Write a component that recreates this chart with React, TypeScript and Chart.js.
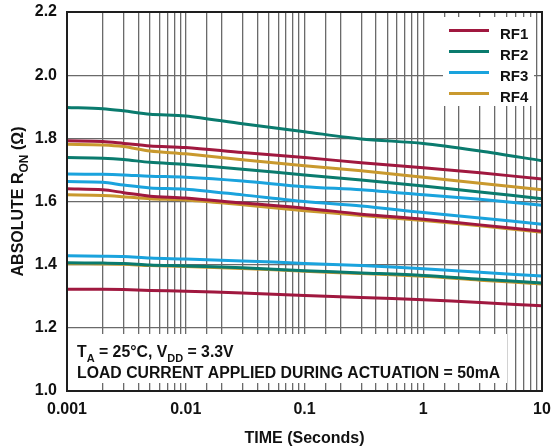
import React, { useEffect, useRef } from "react";
import { Chart, registerables } from "chart.js";

Chart.register(...registerables);

// ---- data ----
const TIMES = [0.001, 0.002, 0.003, 0.005, 0.01, 0.03, 0.1, 0.3, 1, 3, 10];

const RF1_A = [1.792, 1.790, 1.784, 1.776, 1.771, 1.755, 1.739, 1.723, 1.707, 1.691, 1.671];
const RF1_B = [1.640, 1.637, 1.628, 1.617, 1.611, 1.595, 1.579, 1.560, 1.544, 1.526, 1.506];
const RF1_C = [1.322, 1.322, 1.321, 1.318, 1.316, 1.310, 1.302, 1.296, 1.289, 1.280, 1.270];

const RF2_A = [1.898, 1.894, 1.887, 1.876, 1.871, 1.846, 1.821, 1.798, 1.784, 1.760, 1.729];
const RF2_B = [1.739, 1.737, 1.733, 1.724, 1.717, 1.702, 1.684, 1.668, 1.649, 1.630, 1.609];
const RF2_C = [1.406, 1.405, 1.404, 1.399, 1.396, 1.390, 1.381, 1.374, 1.366, 1.354, 1.342];

const RF3_A = [1.687, 1.686, 1.684, 1.680, 1.677, 1.665, 1.647, 1.637, 1.621, 1.607, 1.588];
const RF3_B = [1.663, 1.661, 1.652, 1.643, 1.639, 1.621, 1.600, 1.586, 1.565, 1.548, 1.528];
const RF3_C = [1.428, 1.427, 1.426, 1.421, 1.418, 1.412, 1.404, 1.397, 1.387, 1.376, 1.364];

const RF4_A = [1.781, 1.779, 1.774, 1.760, 1.751, 1.732, 1.713, 1.697, 1.677, 1.658, 1.637];
const RF4_B = [1.621, 1.619, 1.615, 1.609, 1.605, 1.590, 1.571, 1.556, 1.540, 1.523, 1.503];
const RF4_C = [1.403, 1.402, 1.401, 1.397, 1.394, 1.388, 1.379, 1.372, 1.363, 1.351, 1.339];

const SERIES_NAMES = ["RF1", "RF2", "RF3", "RF4"];
const SERIES_LINES = [
  [RF1_A, RF1_B, RF1_C],
  [RF2_A, RF2_B, RF2_C],
  [RF3_A, RF3_B, RF3_C],
  [RF4_A, RF4_B, RF4_C],
];

const X_TICK_LABELS = ["0.001", "0.01", "0.1", "1", "10"];
const Y_MIN = 1.0;
const Y_MAX = 2.2;
const Y_STEP = 0.2;

// ---- styles ----
const COLORS = ["#a0183f", "#0a7b6e", "#1aa3dd", "#c9992e"];
const FONT = '"Liberation Sans", Arial, Helvetica, sans-serif';
const GRID = "#6a6a6a";
const TEXT = "#111111";

type Part = { t: string; sub?: boolean };

function drawRich(ctx: CanvasRenderingContext2D, parts: Part[], x: number, y: number, size: number, align: "left" | "center") {
  const subSize = Math.round(size * 0.72);
  const measure = (p: Part) => {
    ctx.font = `bold ${p.sub ? subSize : size}px ${FONT}`;
    return ctx.measureText(p.t).width;
  };
  const total = parts.reduce((s, p) => s + measure(p), 0);
  let cx = align === "center" ? x - total / 2 : x;
  ctx.textAlign = "left";
  ctx.textBaseline = "alphabetic";
  for (const p of parts) {
    ctx.font = `bold ${p.sub ? subSize : size}px ${FONT}`;
    ctx.fillText(p.t, cx, p.sub ? y + size * 0.3 : y);
    cx += ctx.measureText(p.t).width;
  }
}

const zeroPad = (s: any) => {
  s.paddingLeft = 0;
  s.paddingRight = 0;
  s.paddingTop = 0;
  s.paddingBottom = 0;
};

const overlayPlugin = {
  id: "overlay",
  beforeDatasetsDraw(chart: any) {
    const { ctx, chartArea: a } = chart;
    ctx.save();
    ctx.fillStyle = "#ffffff";
    // legend box
    ctx.fillRect(a.right - 99, a.top + 5, 91, 89);
    // annotation box
    ctx.fillRect(a.left + 2, a.bottom - 57, 438, 49);
    ctx.restore();
  },
  afterDatasetsDraw(chart: any) {
    const { ctx, chartArea: a } = chart;
    ctx.save();
    // frame
    ctx.strokeStyle = "#1e1e1e";
    ctx.lineWidth = 2;
    ctx.strokeRect(a.left, a.top, a.right - a.left, a.bottom - a.top);

    // legend
    SERIES_NAMES.forEach((name, i) => {
      const yy = a.top + 18.5 + i * 21;
      ctx.strokeStyle = COLORS[i];
      ctx.lineWidth = 3;
      ctx.beginPath();
      ctx.moveTo(a.right - 93, yy);
      ctx.lineTo(a.right - 53, yy);
      ctx.stroke();
      ctx.fillStyle = TEXT;
      ctx.font = `bold 15px ${FONT}`;
      ctx.textAlign = "left";
      ctx.textBaseline = "alphabetic";
      ctx.fillText(name, a.right - 42, yy + 8);
    });

    // annotation
    ctx.fillStyle = TEXT;
    drawRich(ctx, [{ t: "T" }, { t: "A", sub: true }, { t: " = 25°C, V" }, { t: "DD", sub: true }, { t: " = 3.3V" }], a.left + 10, a.bottom - 34, 15.8, "left");
    drawRich(ctx, [{ t: "LOAD CURRENT APPLIED DURING ACTUATION = 50mA" }], a.left + 10, a.bottom - 13, 15.8, "left");

    // x title
    drawRich(ctx, [{ t: "TIME (Seconds)" }], (a.left + a.right) / 2, 443, 16, "center");

    // y title (rotated)
    ctx.translate(23, (a.top + a.bottom) / 2);
    ctx.rotate(-Math.PI / 2);
    drawRich(ctx, [{ t: "ABSOLUTE R" }, { t: "ON", sub: true }, { t: " (Ω)" }], 0, 0, 16, "center");
    ctx.restore();
  },
};

export default function App() {
  const ref = useRef<HTMLCanvasElement | null>(null);

  useEffect(() => {
    if (!ref.current) return;
    const datasets: any[] = [];
    SERIES_LINES.forEach((lines, si) => {
      lines.forEach((vals, li) => {
        datasets.push({
          label: `${SERIES_NAMES[si]}-${li + 1}`,
          data: TIMES.map((t, k) => ({ x: t, y: vals[k] })),
          borderColor: COLORS[si],
          backgroundColor: COLORS[si],
          borderWidth: 3,
          pointRadius: 0,
          fill: false,
          tension: 0.3,
        });
      });
    });

    const chart = new Chart(ref.current, {
      type: "line",
      data: { datasets },
      plugins: [overlayPlugin],
      options: {
        animation: false,
        responsive: false,
        maintainAspectRatio: false,
        layout: { padding: { top: 12, right: 9, left: 0, bottom: 0 } },
        plugins: { legend: { display: false }, tooltip: { enabled: false } },
        scales: {
          x: {
            type: "logarithmic",
            min: 0.001,
            max: 10,
            afterFit: (s: any) => {
              s.height = 57;
              zeroPad(s);
            },
            border: { display: false },
            grid: { color: GRID, lineWidth: 1.3, drawTicks: false },
            ticks: {
              autoSkip: false,
              maxRotation: 0,
              minRotation: 0,
              padding: 9,
              color: TEXT,
              font: { family: FONT, size: 16, weight: "bold" },
              callback: (v: any) => {
                const lg = Math.log10(Number(v));
                const r = Math.round(lg);
                if (Math.abs(lg - r) < 1e-6) return X_TICK_LABELS[r + 3] ?? "";
                return "";
              },
            },
          },
          y: {
            min: Y_MIN,
            max: Y_MAX,
            afterFit: (s: any) => {
              s.width = 67;
              zeroPad(s);
            },
            border: { display: false },
            grid: { color: GRID, lineWidth: 1.3, drawTicks: false },
            ticks: {
              stepSize: Y_STEP,
              padding: 10,
              color: TEXT,
              font: { family: FONT, size: 16, weight: "bold" },
              callback: (v: any) => Number(v).toFixed(1),
            },
          },
        },
      },
    });
    return () => chart.destroy();
  }, []);

  return (
    <div style={{ position: "fixed", left: 0, top: 0, width: 551, height: 448, background: "#fff" }}>
      <canvas ref={ref} width={551} height={448} style={{ width: 551, height: 448, display: "block" }} />
    </div>
  );
}
